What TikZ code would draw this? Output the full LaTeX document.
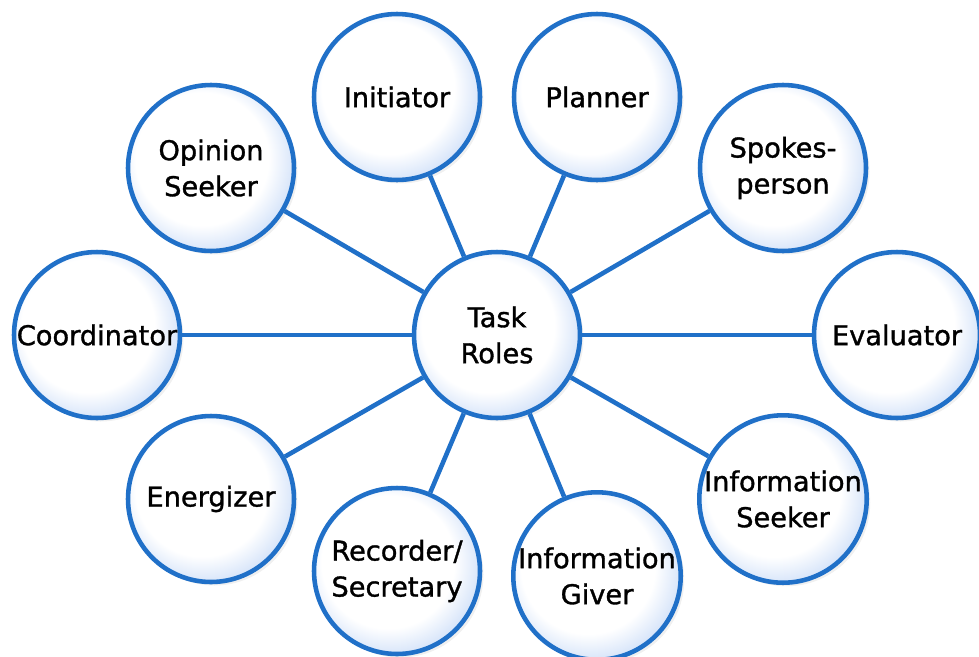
\documentclass[tikz,border=0pt]{standalone}
\usepackage{fontspec}
\setmainfont{DejaVu Sans}[FakeBold=1.2]
\usetikzlibrary{shadows}

\definecolor{rimblue}{RGB}{32,112,200}
\definecolor{glowblue}{RGB}{205,222,248}
\pgfdeclareradialshading{bubble}{\pgfpoint{-4.5bp}{4.5bp}}{%
  color(0bp)=(white); color(20bp)=(white); color(29bp)=(glowblue); color(50bp)=(glowblue)}

\begin{document}
\begin{tikzpicture}[x=0.02cm,y=-0.02cm,
    role/.style={circle,draw=rimblue,line width=2.6pt,shade,shading=bubble,
      minimum size=3.32cm,inner sep=0pt,align=center,
      font=\fontsize{15.5}{20.5}\selectfont,
      drop shadow={opacity=0.12,shadow xshift=2pt,shadow yshift=-2pt}},
    spoke/.style={draw=rimblue,line width=2.6pt}]
      \useasboundingbox (0,0) rectangle (979,656);

      \node[role] (task)  at (497,335) {Task\\Roles};
      \node[role] (init)  at (397,97)  {Initiator};
      \node[role] (plan)  at (597,97)  {Planner};
      \node[role] (opin)  at (211,168) {Opinion\\Seeker};
      \node[role] (spok)  at (783,168) {Spokes-\\person};
      \node[role] (coord) at (97,335)  {Coordinator};
      \node[role] (eval)  at (897,335) {Evaluator};
      \node[role] (ener)  at (211,499) {Energizer};
      \node[role] (iseek) at (783,499) {Information\\Seeker};
      \node[role] (rec)   at (397,571) {Recorder/\\Secretary};
      \node[role] (igive) at (597,576) {Information\\Giver};

      \path[spoke]
      (task) edge (init)
      (task) edge (plan)
      (task) edge (opin)
      (task) edge (spok)
      (task) edge (coord)
      (task) edge (eval)
      (task) edge (ener)
      (task) edge (iseek)
      (task) edge (rec)
      (task) edge (igive)
      ;
    \end{tikzpicture}
\end{document}
